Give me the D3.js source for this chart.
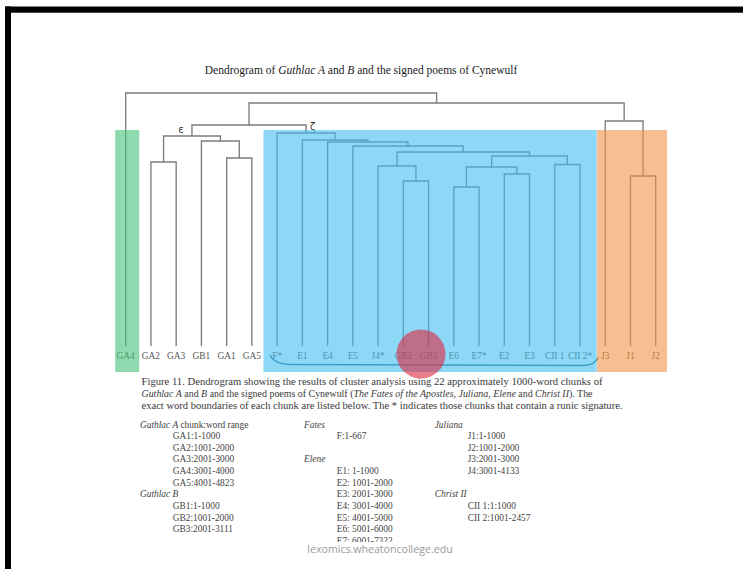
<!DOCTYPE html>
<html><head><meta charset="utf-8">
<script src="https://cdn.jsdelivr.net/npm/d3@7"></script>
<style>
html,body{margin:0;padding:0;background:#fff;}
svg{display:block;}
</style></head>
<body>
<script>
// ---- data ----
const leaves = ["GA4","GA2","GA3","GB1","GA1","GA5","F*","E1","E4","E5","J4*","GB2","GB3","E6","E7*","E2","E3","CII 1","CII 2*","J3","J1","J2"];
// linkage: [id, childA, childB, height]
const merges = [
  ["n0","GA2","GA3",1.84],
  ["n1","GA1","GA5",1.88],
  ["n2","GB1","n1",2.05],
  ["eps","n0","n2",2.10],
  ["n4","GB2","GB3",1.65],
  ["n5","J4*","n4",1.80],
  ["n6","E6","E7*",1.59],
  ["n7","E2","E3",1.72],
  ["n8","n6","n7",1.79],
  ["n9","CII 1","CII 2*",1.815],
  ["n10","n8","n9",1.90],
  ["n11","n5","n10",1.94],
  ["n12","E5","n11",2.00],
  ["n13","E4","n12",2.04],
  ["n14","E1","n13",2.06],
  ["zeta","F*","n14",2.13],
  ["n16","eps","zeta",2.21],
  ["n17","J1","J2",1.70],
  ["n18","J3","n17",2.25],
  ["n19","n16","n18",2.43],
  ["root","GA4","n19",2.53]
];
const nodeLabels = [["eps","ε"],["zeta","ζ"]];
const groups = [
  {first:"GA4", last:"GA4", color:"#44C37A"},
  {first:"F*", last:"CII 2*", color:"#43BEF2"},
  {first:"J3", last:"J2", color:"#F29348"}
];
const titleParts = [["Dendrogram of ",false],["Guthlac A",true],[" and ",false],["B",true],[" and the signed poems of Cynewulf",false]];
const captionLines = [
  [["Figure 11. Dendrogram showing the results of cluster analysis using 22 approximately 1000-word chunks of",false]],
  [["Guthlac A",true],[" and ",false],["B",true],[" and the signed poems of Cynewulf (",false],["The Fates of the Apostles, Juliana, Elene",true],[" and ",false],["Christ II",true],["). The",false]],
  [["exact word boundaries of each chunk are listed below. The * indicates those chunks that contain a runic signature.",false]]
];
// table columns: [row, italic part, plain part, indented]
const col1 = [[0,"Guthlac A"," chunk:word range",false],[1,"","GA1:1-1000",true],[2,"","GA2:1001-2000",true],[3,"","GA3:2001-3000",true],[4,"","GA4:3001-4000",true],[5,"","GA5:4001-4823",true],[6,"Guthlac B","",false],[7,"","GB1:1-1000",true],[8,"","GB2:1001-2000",true],[9,"","GB3:2001-3111",true]];
const col2 = [[0,"Fates","",false],[1,"","F:1-667",true],[3,"Elene","",false],[4,"","E1: 1-1000",true],[5,"","E2: 1001-2000",true],[6,"","E3: 2001-3000",true],[7,"","E4: 3001-4000",true],[8,"","E5: 4001-5000",true],[9,"","E6: 5001-6000",true],[10,"","E7: 6001-7322",true]];
const col3 = [[0,"Juliana","",false],[1,"","J1:1-1000",true],[2,"","J2:1001-2000",true],[3,"","J3:2001-3000",true],[4,"","J4:3001-4133",true],[6,"Christ II","",false],[7,"","CII 1:1:1000",true],[8,"","CII 2:1001-2457",true]];
const watermark = "lexomics.wheatoncollege.edu";

// ---- drawing ----
const W=743,H=569;
const svg=d3.select("body").append("svg").attr("width",W).attr("height",H);
svg.append("rect").attr("width",W).attr("height",H).attr("fill","#fff");

const x=d3.scalePoint().domain(leaves).range([125.7,655.7]);
const y=d3.scaleLinear().domain([0,2.53]).range([346,93]);
const serif="'Liberation Serif','DejaVu Serif',serif";

// title
const t=svg.append("text").attr("x",361).attr("y",74).attr("text-anchor","middle")
  .attr("font-family",serif).attr("font-size",11.5).attr("fill","#222");
titleParts.forEach(p=>t.append("tspan").text(p[0]).attr("font-style",p[1]?"italic":"normal"));

// dendrogram
const pos={};
leaves.forEach(l=>pos[l]={x:x(l),h:0});
const g=svg.append("g").attr("fill","none").attr("stroke","#7c7c7c").attr("stroke-width",1.35);
merges.forEach(([id,a,b,h])=>{
  const A=pos[a],B=pos[b];
  pos[id]={x:(A.x+B.x)/2,h:h};
  g.append("path").attr("d",`M${A.x},${y(A.h)}V${y(h)}H${B.x}V${y(B.h)}`);
});
nodeLabels.forEach(([id,s])=>{
  const n=pos[id];
  const dx = id==="eps"? -11 : 6.5;
  svg.append("text").attr("x",n.x+dx).attr("y",y(n.h)-3).attr("text-anchor","middle")
    .attr("font-family","'DejaVu Sans',sans-serif").attr("font-size",10).attr("fill","#333").text(s);
});
// leaf labels
svg.append("g").selectAll("text").data(leaves).join("text")
  .attr("x",d=>x(d)).attr("y",358.5).attr("text-anchor","middle")
  .attr("font-family",serif).attr("font-size",9.4).attr("fill","#555").text(d=>d);

// brace under blue group
svg.append("path").attr("d","M270,355 Q274,364.5 292,364.5 L584,365.5 Q595,365 598,357.5")
  .attr("fill","none").attr("stroke","#2f6f8c").attr("stroke-width",1.4);

// colored group overlays
const padL={GA4:10.5,"F*":13.7,J3:8.3}, padR={GA4:13.5,"CII 2*":16.7,J2:11.3};
groups.forEach(gr=>{
  const x0=x(gr.first)-padL[gr.first], x1=x(gr.last)+padR[gr.last];
  svg.append("rect").attr("x",x0).attr("y",130).attr("width",x1-x0).attr("height",242)
    .attr("fill",gr.color).attr("opacity",0.6);
});

// red dot
svg.append("circle").attr("cx",421).attr("cy",354).attr("r",24.5).attr("fill","rgb(222,40,62)").attr("opacity",0.6);

// caption
const cap=svg.append("g").attr("font-family",serif).attr("font-size",9.9).attr("fill","#3a3a3a");
const capW=[461,451,481];
captionLines.forEach((line,i)=>{
  const tx=cap.append("text").attr("x",141.5).attr("y",384.5+i*12)
    .attr("textLength",capW[i]).attr("lengthAdjust","spacingAndGlyphs");
  line.forEach(p=>tx.append("tspan").text(p[0]).attr("font-style",p[1]?"italic":"normal"));
});

// table (clipped)
svg.append("clipPath").attr("id","pg").append("rect").attr("x",0).attr("y",0).attr("width",W).attr("height",542);
const tb=svg.append("g").attr("clip-path","url(#pg)").attr("font-family",serif).attr("font-size",9.4).attr("fill","#444");
[[col1,140,172.7],[col2,304,336.7],[col3,434.7,467.7]].forEach(([col,hx,ix])=>{
  col.forEach(([r,ital,rest,ind])=>{
    const tx=tb.append("text").attr("x",ind?ix:hx).attr("y",427.5+r*11.65);
    if(ital) tx.append("tspan").attr("font-style","italic").text(ital);
    if(rest) tx.append("tspan").text(rest);
  });
});

// watermark
svg.append("text").attr("x",380).attr("y",553).attr("text-anchor","middle")
  .attr("font-family","'Open Sans',sans-serif").attr("font-size",10.6).attr("fill","#9a9a9a").text(watermark);

// black page frame
svg.append("rect").attr("x",5).attr("y",6.5).attr("width",W-5).attr("height",6.2).attr("fill","#000");
svg.append("rect").attr("x",5).attr("y",6.5).attr("width",6).attr("height",H).attr("fill","#000");
</script>
</body></html>
